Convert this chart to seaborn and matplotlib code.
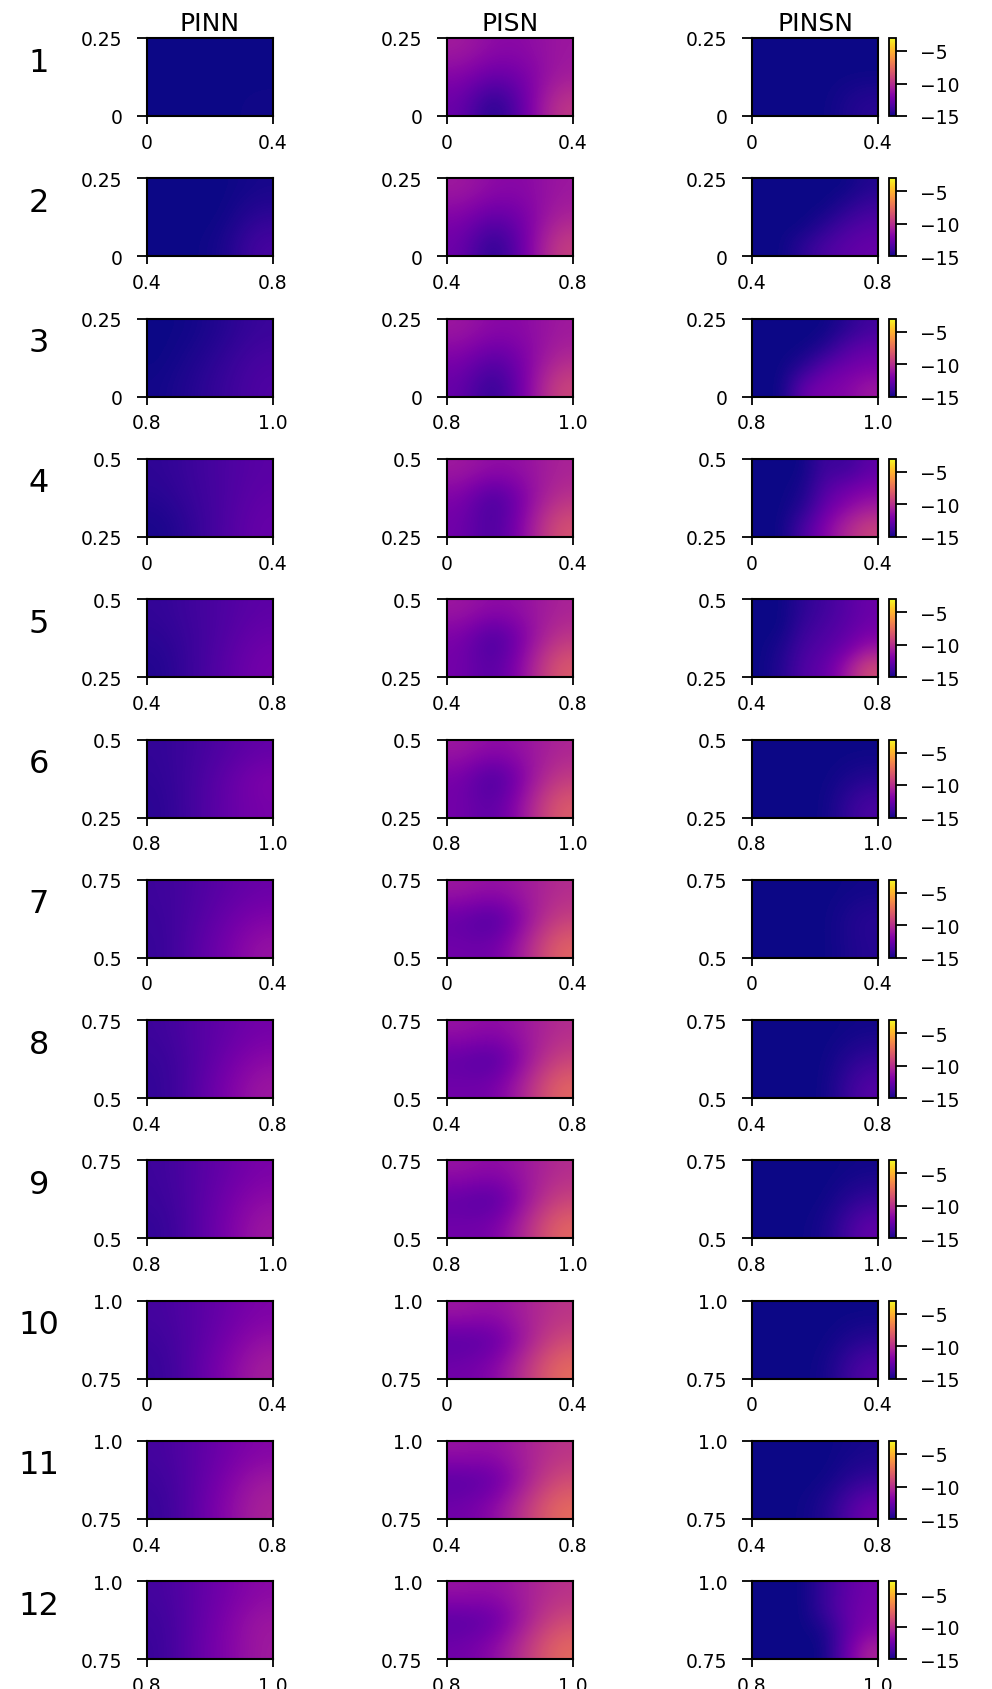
import numpy as np
import matplotlib
matplotlib.use("Agg")
import matplotlib.pyplot as plt
import seaborn as sns

# column titles and subdomain ranges
methods = ["PINN", "PISN", "PINSN"]
x_ranges = [(0, 0.4), (0.4, 0.8), (0.8, 1.0)] * 4
y_ranges = [(0, 0.25)] * 3 + [(0.25, 0.5)] * 3 + [(0.5, 0.75)] * 3 + [(0.75, 1.0)] * 3
x_tick_text = {0: "0", 0.4: "0.4", 0.8: "0.8", 1.0: "1.0"}
y_tick_text = {0: "0", 0.25: "0.25", 0.5: "0.5", 0.75: "0.75", 1.0: "1.0"}

# coarse log10 error grids (rows: top -> bottom, cols: left -> right)
pinn_err = [
    [[-15, -15, -15, -15], [-15, -15, -15, -15], [-15, -15, -15, -14.9]],
    [[-15, -15, -15, -14.8], [-15, -15, -15, -14.3], [-15, -15, -14.8, -13.6]],
    [[-15, -14.9, -14.5, -14.0], [-15, -14.7, -14.2, -13.6], [-14.9, -14.5, -14.0, -13.4]],
    [[-14.3, -13.9, -13.5, -13.1], [-14.5, -14.0, -13.5, -12.9], [-14.8, -14.2, -13.4, -12.7]],
    [[-14.2, -13.8, -13.4, -13.0], [-14.4, -13.9, -13.3, -12.6], [-14.6, -13.9, -13.1, -12.3]],
    [[-14.2, -13.8, -13.3, -12.8], [-14.3, -13.7, -12.9, -12.0], [-14.4, -13.7, -12.8, -12.2]],
    [[-13.9, -13.5, -13.0, -12.6], [-14.0, -13.4, -12.6, -11.9], [-14.1, -13.2, -12.3, -11.2]],
    [[-13.9, -13.3, -12.8, -12.3], [-14.1, -13.4, -12.5, -11.6], [-14.2, -13.3, -12.1, -11.0]],
    [[-13.9, -13.3, -12.7, -12.1], [-14.0, -13.3, -12.4, -11.5], [-14.2, -13.3, -12.2, -11.0]],
    [[-13.7, -13.2, -12.6, -12.0], [-13.9, -13.2, -12.3, -11.3], [-14.1, -13.1, -11.9, -10.7]],
    [[-13.7, -13.1, -12.4, -11.8], [-13.9, -13.1, -12.0, -10.9], [-14.1, -13.0, -11.7, -10.5]],
    [[-13.7, -13.0, -12.3, -11.6], [-13.9, -13.0, -12.0, -11.0], [-14.0, -12.9, -11.9, -10.9]],
]
pisn_err = [
    [[-10.8, -11.6, -11.6, -11.0], [-11.8, -12.8, -12.2, -10.8], [-12.6, -15.0, -12.5, -9.6]],
    [[-10.9, -11.6, -11.7, -11.0], [-11.9, -13.0, -12.2, -10.5], [-12.5, -14.8, -12.3, -9.3]],
    [[-11.0, -11.7, -11.6, -10.9], [-12.0, -13.2, -12.0, -10.3], [-12.7, -14.6, -12.0, -9.0]],
    [[-10.9, -11.5, -11.3, -10.5], [-12.0, -14.0, -11.8, -9.9], [-12.4, -13.8, -11.4, -8.5]],
    [[-11.0, -11.6, -11.3, -10.5], [-12.1, -14.0, -11.8, -9.7], [-12.3, -13.4, -11.2, -8.2]],
    [[-11.0, -11.6, -11.2, -10.4], [-12.2, -14.0, -11.6, -9.5], [-12.3, -13.2, -10.9, -8.1]],
    [[-11.0, -11.4, -10.9, -10.1], [-12.8, -13.8, -11.4, -9.3], [-12.4, -12.5, -10.5, -7.8]],
    [[-11.2, -11.6, -11.0, -10.1], [-12.9, -13.6, -11.3, -9.2], [-12.4, -12.3, -10.3, -7.7]],
    [[-11.2, -11.6, -11.0, -10.1], [-12.9, -13.5, -11.2, -9.2], [-12.4, -12.2, -10.2, -7.7]],
    [[-11.0, -11.4, -10.6, -9.8], [-13.2, -13.0, -10.9, -8.9], [-12.4, -11.8, -9.8, -7.5]],
    [[-11.2, -11.4, -10.6, -9.8], [-13.2, -12.9, -10.8, -8.8], [-12.4, -11.6, -9.6, -7.5]],
    [[-11.2, -11.4, -10.7, -9.9], [-13.2, -12.9, -10.8, -8.9], [-12.4, -11.6, -9.7, -7.6]],
]
pinsn_err = [
    [[-15, -15, -15, -15], [-15, -15, -15, -15], [-15, -15, -15, -14.4]],
    [[-15, -15, -15, -15, -15, -14.6], [-15, -15, -15, -15, -14.5, -13.9],
     [-15, -15, -15, -14.4, -13.6, -13.2], [-15, -15, -14.3, -13.5, -13.0, -12.7]],
    [[-15, -15, -15, -15, -14.5, -13.8], [-15, -15, -15, -14.6, -13.3, -12.8],
     [-15, -15, -14.4, -12.9, -12.4, -12.1], [-15, -15, -12.6, -12.1, -11.8, -11.0]],
    [[-15, -15, -15, -13.8, -14.0, -13.0], [-15, -15, -14.8, -13.3, -12.5, -12.0],
     [-15, -15, -14.5, -12.6, -11.6, -10.8], [-15, -15, -13.5, -11.8, -10.3, -9.2]],
    [[-15, -15, -14.3, -13.8, -13.2, -12.6], [-15, -15, -14.0, -13.5, -13.0, -12.4],
     [-15, -14.7, -13.6, -13.2, -12.5, -11.2], [-15, -14.5, -13.3, -12.8, -11.0, -8.8]],
    [[-15, -15, -15, -15], [-15, -15, -15, -14.6], [-15, -15, -15, -13.5]],
    [[-15, -15, -15, -14.9], [-15, -15, -15, -14.4], [-15, -15, -15, -14.5]],
    [[-15, -15, -15, -14.9], [-15, -15, -15, -14.2], [-15, -15, -15, -13.2]],
    [[-15, -15, -15, -14.9], [-15, -15, -15, -14.2], [-15, -15, -14.8, -12.8]],
    [[-15, -15, -15, -15], [-15, -15, -15, -14.5], [-15, -15, -14.9, -13.2]],
    [[-15, -15, -15, -14.8], [-15, -15, -15, -14.2], [-15, -15, -14.6, -12.4]],
    [[-15, -15, -15, -14.0, -13.0, -12.4], [-15, -15, -15, -14.0, -12.8, -12.2],
     [-15, -15, -15, -14.8, -13.0, -11.9], [-15, -15, -15, -15, -12.6, -10.5]],
]
cbar_ticks = [-5, -10, -15]
vmin, vmax = -15, -3

sns.set_style("ticks")
plt.rcParams["font.family"] = ["DejaVu Sans"]
plt.rcParams["text.color"] = "black"
plt.rcParams["xtick.color"] = "black"
plt.rcParams["ytick.color"] = "black"
plt.rcParams["axes.labelcolor"] = "black"
cmap = sns.color_palette("plasma", as_cmap=True)

W, H = 992, 1690
fig = plt.figure(figsize=(W / 100, H / 100), dpi=100)

col_left = [147, 447, 752]
ax_w, ax_h = 126, 78
row_top0, row_step = 39, 140.3
tick_fs = 13.5

all_err = [pinn_err, pisn_err, pinsn_err]

for r in range(12):
    top = row_top0 + r * row_step
    x0, x1 = x_ranges[r]
    y0, y1 = y_ranges[r]
    for c in range(3):
        ax = fig.add_axes([col_left[c] / W, 1 - (top + ax_h) / H, ax_w / W, ax_h / H])
        im = ax.imshow(np.array(all_err[c][r]), cmap=cmap, vmin=vmin, vmax=vmax,
                       extent=[x0, x1, y0, y1], origin="upper", aspect="auto",
                       interpolation="bicubic")
        ax.set_xlim(x0, x1)
        ax.set_ylim(y0, y1)
        ax.set_xticks([x0, x1])
        ax.set_xticklabels([x_tick_text[x0], x_tick_text[x1]])
        ax.set_yticks([y0, y1])
        ax.set_yticklabels([y_tick_text[y0], y_tick_text[y1]])
        ax.tick_params(axis="x", length=6, width=1.3, pad=6, labelsize=tick_fs, colors="black")
        ax.tick_params(axis="y", length=7.5, width=1.3, pad=10, labelsize=tick_fs, colors="black")
        for s in ax.spines.values():
            s.set_linewidth(1.5)
            s.set_color("black")
        if r == 0:
            ax.set_title(methods[c], fontsize=18, pad=6, color="black")
        if c == 2:
            cax = fig.add_axes([889 / W, 1 - (top + ax_h) / H, 6.5 / W, ax_h / H])
            cb = fig.colorbar(im, cax=cax, ticks=cbar_ticks)
            cb.outline.set_linewidth(1.3)
            cb.outline.set_edgecolor("black")
            cax.tick_params(length=8, width=1.3, pad=10, labelsize=tick_fs, colors="black")
    fig.text(39 / W, 1 - (top + 24) / H, str(r + 1), fontsize=23, ha="center", va="center",
             color="black")

fig.savefig("out.png", dpi=100)
